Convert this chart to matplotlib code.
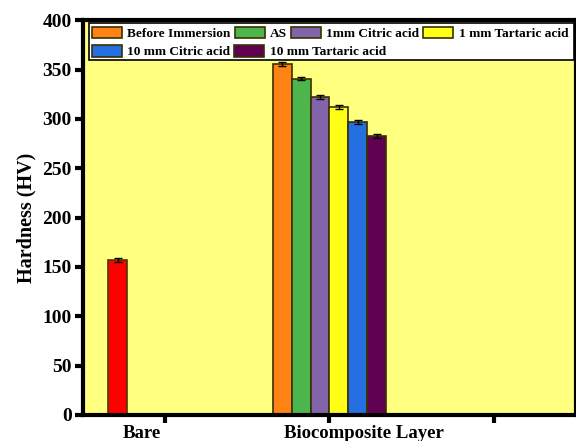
import numpy as np
import matplotlib
matplotlib.use('Agg')
import matplotlib.pyplot as plt
from matplotlib.patches import Rectangle

plt.rcParams['font.family'] = ['Liberation Serif', 'DejaVu Serif']
plt.rcParams['font.weight'] = 'bold'

# data
groups = ['Bare', 'Biocomposite Layer']
series = ['Before Immersion', 'AS', '1mm Citric acid', '1 mm Tartaric acid',
          '10 mm Citric acid', '10 mm Tartaric acid']
bare_value = 157
bare_err = 2
layer_values = [356, 341, 322, 312, 297, 283]
layer_errs = [2, 2, 2, 2, 2, 2]
colors = ['#ff8214', '#4cb54c', '#8264aa', '#ffff17', '#2470e0', '#600050']
bare_color = '#ff0000'

fig = plt.figure(figsize=(5.76, 4.41), dpi=100)
ax = fig.add_axes([0.144, 0.059, 0.856, 0.895])
ax.set_facecolor('#ffff80')

width = 0.115
offsets = (np.arange(len(series)) - (len(series) - 1) / 2) * width
ekw = {'elinewidth': 1, 'capthick': 1}

# Bare sits in the first slot of its cluster
ax.bar(0.5 + offsets[0], bare_value, width, color=bare_color, edgecolor='#4a3a00',
       linewidth=1.2, yerr=bare_err, capsize=3, error_kw=ekw)

handles = []
for i, name in enumerate(series):
    b = ax.bar(1.5 + offsets[i], layer_values[i], width, color=colors[i], edgecolor='#3a3000',
               linewidth=1.2, label=name, yerr=layer_errs[i], capsize=3, error_kw=ekw)
    handles.append(b)

ax.set_xlim(0, 3)
ax.set_ylim(0, 400)
ax.set_xticks([0.5, 1.5, 2.5])
ax.set_xticklabels([])
ax.set_yticks(np.arange(0, 401, 50))
ax.tick_params(axis='both', direction='out', width=3, length=6, labelsize=14, pad=2)
for lab in ax.get_yticklabels():
    lab.set_fontweight('bold')
for s in ax.spines.values():
    s.set_linewidth(3)

# category labels
ax.text(0.36, -0.026, groups[0], transform=ax.get_xaxis_transform(), ha='center', va='top',
        fontsize=13.5, fontweight='bold')
ax.text(1.71, -0.026, groups[1], transform=ax.get_xaxis_transform(), ha='center', va='top',
        fontsize=13.5, fontweight='bold')

ax.set_ylabel('Hardness (HV)', fontsize=14.5, fontweight='bold', labelpad=4)

# legend: one white framed box, two rows that are not column aligned
ax.add_patch(Rectangle((0.012, 0.899), 0.983, 0.094, transform=ax.transAxes,
                       facecolor='white', edgecolor='black', linewidth=1.2, zorder=4))
leg_kw = dict(fontsize=9.6, frameon=False, handlelength=2.25, handleheight=0.95,
              handletextpad=0.4, columnspacing=0.3, borderpad=0, borderaxespad=0)
leg1 = ax.legend(handles[:4], series[:4], loc='upper left', bbox_to_anchor=(0.018, 0.984),
                 ncol=4, **leg_kw)
for t in leg1.get_texts():
    t.set_fontweight('bold')
leg1.set_zorder(5)
ax.add_artist(leg1)
leg2 = ax.legend(handles[4:], series[4:], loc='upper left', bbox_to_anchor=(0.018, 0.937),
                 ncol=2, **leg_kw)
for t in leg2.get_texts():
    t.set_fontweight('bold')
leg2.set_zorder(5)

fig.savefig('out.png', dpi=100)
